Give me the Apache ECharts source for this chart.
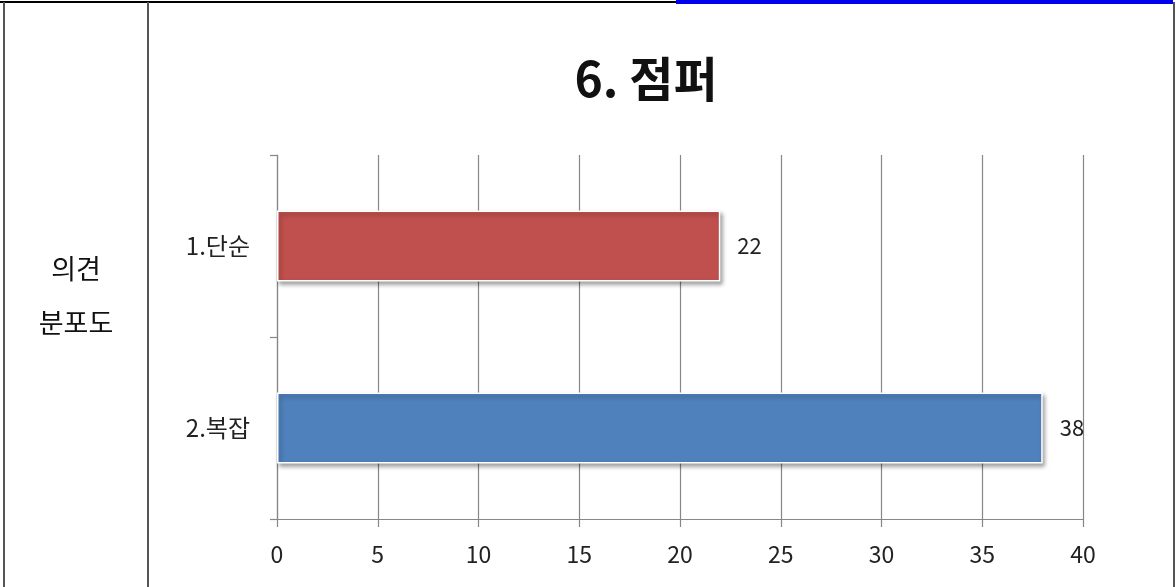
<!DOCTYPE html>
<html>
<head>
<meta charset="utf-8">
<script src="https://cdn.jsdelivr.net/npm/echarts@6/dist/echarts.min.js"></script>
<style>
  html, body { margin: 0; padding: 0; background: #fff; }
  #chart { width: 1176px; height: 587px; }
</style>
</head>
<body>
<div id="chart"></div>
<script>
// Opinion distribution for item 6 (jumper)
const chartTitle = '6. 점퍼';
const rowHeader = ['의견', '분포도'];
const categories = ['1.단순', '2.복잡'];
const counts = [22, 38];
const barColors = ['#C0504D', '#4F81BD'];
const axisMax = 40;
const axisStep = 5;

const KR = '"Noto Sans CJK KR", "Noto Sans", sans-serif';
const gridColor = '#878787';

const chart = echarts.init(document.getElementById('chart'), null, { renderer: 'canvas' });

chart.setOption({
  animation: false,
  backgroundColor: '#ffffff',
  title: {
    text: chartTitle,
    left: 641,
    textAlign: 'center',
    top: 50,
    textStyle: { fontFamily: KR, fontSize: 48, fontWeight: 'bold', color: '#111' }
  },
  grid: { left: 277, right: 93, top: 155, bottom: 68, containLabel: false },
  xAxis: {
    type: 'value',
    min: 0,
    max: axisMax,
    interval: axisStep,
    axisLine: { show: true, lineStyle: { color: gridColor, width: 1.2 } },
    axisTick: { show: true, length: 8, lineStyle: { color: gridColor, width: 1.2 } },
    splitLine: { show: true, lineStyle: { color: gridColor, width: 1.2 } },
    axisLabel: { margin: 24, fontFamily: KR, fontSize: 23, color: '#222' }
  },
  yAxis: {
    type: 'category',
    data: categories,
    inverse: true,
    axisLine: { show: true, lineStyle: { color: gridColor, width: 1.2 } },
    axisTick: { show: true, length: 7, alignWithLabel: false, lineStyle: { color: gridColor, width: 1.2 } },
    axisLabel: { margin: 27, fontFamily: KR, fontSize: 24, color: '#222' },
    splitLine: { show: false }
  },
  series: [{
    type: 'bar',
    data: counts.map((v, i) => ({
      value: v,
      itemStyle: { color: barColors[i] }
    })),
    barWidth: '39%',
    itemStyle: {
      borderColor: '#ffffff',
      borderWidth: 1.5,
      shadowColor: 'rgba(0,0,0,0.35)',
      shadowBlur: 4,
      shadowOffsetX: 2,
      shadowOffsetY: 3
    },
    label: {
      show: true,
      position: 'right',
      distance: 17,
      fontFamily: KR,
      fontSize: 22,
      color: '#222'
    }
  }],
  graphic: [
    // table frame
    { type: 'line', shape: { x1: 0, y1: 2, x2: 676, y2: 2 }, style: { stroke: '#000', lineWidth: 2 } },
    { type: 'line', shape: { x1: 676, y1: 2, x2: 1173, y2: 2 }, style: { stroke: '#0000ee', lineWidth: 4 } },
    { type: 'line', shape: { x1: 4, y1: 2, x2: 4, y2: 587 }, style: { stroke: '#555', lineWidth: 2 } },
    { type: 'line', shape: { x1: 148, y1: 2, x2: 148, y2: 587 }, style: { stroke: '#555', lineWidth: 2 } },
    { type: 'line', shape: { x1: 1174, y1: 2, x2: 1174, y2: 587 }, style: { stroke: '#555', lineWidth: 2 } },
    // row header text
    {
      type: 'text', style: {
        text: rowHeader[0], x: 76, y: 269, align: 'center', verticalAlign: 'middle',
        font: '27px ' + KR, fill: '#111'
      }
    },
    {
      type: 'text', style: {
        text: rowHeader[1], x: 76, y: 323, align: 'center', verticalAlign: 'middle',
        font: '27px ' + KR, fill: '#111'
      }
    }
  ]
});
</script>
</body>
</html>
